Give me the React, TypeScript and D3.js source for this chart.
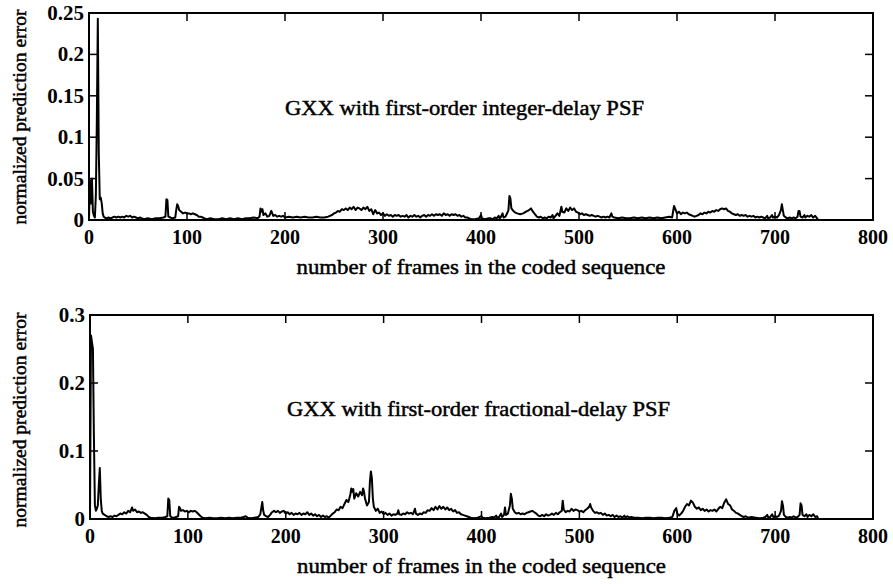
import React from "react";
import * as d3 from "d3";

const xTicks = [0, 100, 200, 300, 400, 500, 600, 700, 800];
const topYTicks = [0, 0.05, 0.1, 0.15, 0.2, 0.25];
const topYLabels = ["0", "0.05", "0.1", "0.15", "0.2", "0.25"];
const botYTicks = [0, 0.1, 0.2, 0.3];
const botYLabels = ["0", "0.1", "0.2", "0.3"];

const xTitle = "number of frames in the coded sequence";
const yTitle = "normalized prediction error";
const topNote = "GXX with first-order integer-delay PSF";
const botNote = "GXX with first-order fractional-delay PSF";

// [frame, normalized prediction error] — integer-delay PSF
const topSeries: [number, number][] = [
  [0,0.0],[1,0.048],[2,0.02],[3,0.05],[4,0.01],[5,0.005],[6,0.003],[7,0.03],[8,0.12],[9,0.243],[10,0.08],[11,0.025],[12,0.027],[13,0.02],[14,0.008],[15,0.004],[16,0.003],[18,0.002],[20,0.003],[22,0.002],[24,0.003],[26,0.004],[28,0.003],[30,0.004],[32,0.003],[34,0.004],[36,0.003],[38,0.005],[40,0.004],[42,0.005],[44,0.003],[46,0.004],[48,0.003],[50,0.002],[52,0.003],[54,0.002],[56,0.001],[60,0.002],[64,0.001],[68,0.002],[72,0.002],[76,0.003],[78,0.004],[79,0.025],[80,0.024],[81,0.004],[83,0.003],[85,0.002],[88,0.003],[89,0.012],[90,0.019],[91,0.017],[92,0.012],[94,0.010],[96,0.008],[98,0.009],[100,0.008],[102,0.008],[104,0.007],[106,0.008],[108,0.007],[110,0.006],[112,0.004],[114,0.004],[116,0.003],[118,0.002],[120,0.001],[124,0.002],[128,0.001],[132,0.001],[136,0.002],[140,0.001],[144,0.002],[148,0.001],[152,0.002],[156,0.001],[160,0.002],[164,0.002],[168,0.003],[172,0.002],[174,0.004],[175,0.014],[176,0.010],[177,0.013],[178,0.006],[180,0.008],[182,0.004],[184,0.005],[186,0.011],[187,0.008],[188,0.005],[190,0.006],[192,0.004],[194,0.005],[196,0.004],[198,0.005],[200,0.003],[204,0.004],[208,0.003],[212,0.004],[216,0.003],[220,0.004],[224,0.003],[228,0.003],[232,0.004],[236,0.003],[240,0.003],[244,0.004],[248,0.006],[250,0.008],[252,0.009],[254,0.011],[256,0.010],[258,0.013],[260,0.012],[262,0.014],[264,0.012],[266,0.015],[268,0.013],[270,0.016],[272,0.012],[274,0.015],[276,0.014],[278,0.012],[280,0.015],[282,0.013],[284,0.016],[286,0.011],[288,0.013],[290,0.007],[292,0.012],[294,0.008],[296,0.009],[298,0.006],[300,0.008],[302,0.005],[304,0.007],[306,0.005],[308,0.006],[310,0.004],[312,0.006],[314,0.005],[316,0.006],[318,0.004],[320,0.005],[322,0.004],[324,0.006],[326,0.003],[328,0.005],[330,0.004],[332,0.006],[334,0.004],[336,0.005],[338,0.003],[340,0.005],[342,0.006],[344,0.004],[346,0.006],[348,0.005],[350,0.007],[352,0.005],[354,0.007],[356,0.006],[358,0.007],[360,0.005],[362,0.008],[364,0.006],[366,0.007],[368,0.005],[370,0.007],[372,0.006],[374,0.007],[376,0.005],[378,0.006],[380,0.004],[382,0.005],[384,0.003],[386,0.003],[388,0.002],[390,0.001],[394,0.001],[398,0.002],[400,0.006],[401,0.002],[404,0.001],[408,0.002],[410,0.002],[412,0.001],[414,0.003],[416,0.002],[418,0.005],[419,0.002],[420,0.003],[422,0.008],[423,0.003],[425,0.004],[427,0.009],[428,0.012],[429,0.029],[430,0.026],[431,0.014],[433,0.011],[435,0.009],[437,0.008],[440,0.007],[443,0.008],[446,0.010],[449,0.012],[451,0.014],[453,0.010],[455,0.007],[457,0.004],[459,0.003],[461,0.004],[463,0.002],[465,0.003],[467,0.002],[469,0.004],[471,0.003],[473,0.006],[474,0.002],[476,0.005],[478,0.008],[480,0.005],[482,0.016],[483,0.010],[485,0.009],[487,0.014],[489,0.011],[491,0.015],[493,0.012],[495,0.014],[497,0.010],[499,0.009],[501,0.007],[503,0.008],[505,0.006],[507,0.007],[509,0.006],[511,0.005],[513,0.006],[515,0.005],[517,0.004],[519,0.005],[521,0.004],[523,0.003],[525,0.004],[527,0.003],[529,0.004],[531,0.003],[533,0.008],[534,0.004],[536,0.003],[540,0.002],[544,0.003],[548,0.002],[552,0.002],[556,0.003],[560,0.002],[564,0.003],[568,0.002],[572,0.003],[576,0.002],[580,0.003],[584,0.002],[588,0.003],[592,0.004],[595,0.003],[597,0.017],[598,0.014],[600,0.008],[602,0.010],[604,0.007],[606,0.009],[608,0.008],[610,0.009],[612,0.007],[614,0.006],[616,0.005],[618,0.004],[620,0.005],[622,0.006],[624,0.008],[626,0.007],[628,0.009],[630,0.008],[632,0.010],[634,0.009],[636,0.011],[638,0.010],[640,0.012],[642,0.011],[644,0.013],[646,0.014],[648,0.013],[650,0.014],[652,0.011],[654,0.010],[656,0.008],[658,0.007],[660,0.006],[662,0.007],[664,0.005],[666,0.006],[668,0.005],[670,0.006],[672,0.004],[674,0.005],[676,0.004],[678,0.005],[680,0.003],[682,0.004],[684,0.003],[686,0.004],[688,0.003],[690,0.002],[692,0.005],[693,0.002],[695,0.003],[697,0.006],[698,0.003],[700,0.004],[702,0.003],[704,0.006],[706,0.012],[707,0.019],[708,0.012],[709,0.005],[711,0.003],[713,0.002],[715,0.003],[717,0.002],[719,0.003],[721,0.002],[723,0.004],[724,0.011],[725,0.011],[726,0.004],[728,0.003],[730,0.006],[731,0.003],[733,0.005],[735,0.004],[737,0.006],[739,0.003],[741,0.005],[743,0.002],[744,0.0]
];

// [frame, normalized prediction error] — fractional-delay PSF
const botSeries: [number, number][] = [
  [0,0.0],[1,0.27],[2,0.26],[3,0.25],[4,0.12],[5,0.02],[6,0.012],[7,0.015],[8,0.02],[9,0.05],[10,0.075],[11,0.03],[12,0.012],[13,0.008],[15,0.006],[17,0.004],[19,0.003],[21,0.004],[23,0.003],[25,0.005],[27,0.004],[29,0.006],[31,0.008],[33,0.007],[35,0.01],[37,0.008],[39,0.012],[41,0.010],[43,0.017],[44,0.012],[46,0.014],[48,0.010],[50,0.011],[52,0.009],[54,0.010],[56,0.008],[58,0.006],[60,0.003],[62,0.002],[66,0.001],[70,0.002],[74,0.002],[77,0.003],[79,0.004],[80,0.030],[81,0.028],[82,0.004],[84,0.002],[86,0.002],[88,0.003],[90,0.004],[91,0.018],[92,0.016],[93,0.012],[95,0.013],[97,0.011],[99,0.012],[101,0.010],[103,0.012],[105,0.011],[107,0.012],[109,0.010],[111,0.007],[113,0.004],[115,0.002],[118,0.001],[122,0.002],[126,0.001],[130,0.001],[134,0.002],[138,0.001],[142,0.002],[146,0.001],[150,0.002],[154,0.002],[157,0.003],[159,0.004],[161,0.002],[164,0.001],[168,0.002],[172,0.003],[174,0.007],[176,0.025],[177,0.012],[178,0.006],[180,0.004],[182,0.003],[184,0.006],[186,0.010],[188,0.012],[190,0.010],[192,0.012],[194,0.009],[196,0.011],[198,0.012],[200,0.008],[202,0.010],[204,0.007],[206,0.009],[208,0.006],[210,0.008],[212,0.007],[214,0.009],[216,0.006],[218,0.008],[220,0.007],[222,0.010],[224,0.006],[226,0.008],[228,0.005],[230,0.007],[232,0.004],[234,0.006],[236,0.003],[238,0.005],[240,0.003],[242,0.004],[244,0.002],[246,0.005],[248,0.008],[250,0.010],[252,0.014],[254,0.013],[256,0.018],[258,0.016],[260,0.022],[262,0.028],[264,0.025],[266,0.036],[267,0.045],[268,0.040],[269,0.044],[270,0.030],[272,0.038],[274,0.033],[276,0.040],[278,0.035],[279,0.045],[280,0.040],[281,0.030],[283,0.020],[285,0.025],[286,0.055],[287,0.070],[288,0.060],[289,0.030],[290,0.018],[292,0.012],[294,0.015],[296,0.009],[298,0.011],[300,0.007],[302,0.009],[304,0.006],[306,0.008],[308,0.005],[310,0.007],[312,0.006],[314,0.008],[315,0.013],[316,0.007],[318,0.006],[320,0.008],[322,0.007],[324,0.010],[326,0.008],[328,0.009],[330,0.007],[332,0.015],[333,0.008],[335,0.006],[337,0.008],[339,0.007],[341,0.010],[343,0.009],[345,0.013],[347,0.012],[349,0.016],[351,0.013],[353,0.018],[355,0.014],[357,0.019],[359,0.015],[361,0.018],[363,0.014],[365,0.017],[367,0.013],[369,0.015],[371,0.011],[373,0.013],[375,0.009],[377,0.010],[379,0.007],[381,0.006],[383,0.005],[385,0.004],[387,0.003],[389,0.002],[392,0.001],[396,0.002],[400,0.004],[401,0.002],[404,0.001],[408,0.002],[411,0.003],[413,0.002],[415,0.005],[416,0.002],[418,0.003],[420,0.008],[421,0.003],[423,0.006],[424,0.017],[425,0.006],[427,0.008],[429,0.020],[430,0.037],[431,0.030],[432,0.015],[434,0.010],[436,0.008],[438,0.009],[440,0.007],[442,0.008],[444,0.007],[446,0.009],[448,0.010],[450,0.011],[452,0.012],[454,0.010],[456,0.008],[458,0.005],[460,0.004],[462,0.006],[464,0.004],[466,0.007],[468,0.005],[470,0.006],[472,0.008],[474,0.006],[476,0.009],[478,0.007],[480,0.010],[482,0.012],[483,0.027],[484,0.014],[486,0.010],[488,0.012],[490,0.011],[492,0.015],[494,0.012],[496,0.014],[498,0.013],[500,0.011],[502,0.012],[504,0.010],[506,0.013],[508,0.015],[510,0.018],[511,0.022],[512,0.017],[514,0.012],[516,0.009],[518,0.010],[520,0.008],[522,0.009],[524,0.006],[526,0.008],[528,0.005],[530,0.006],[532,0.004],[534,0.006],[536,0.003],[538,0.005],[540,0.003],[542,0.004],[544,0.002],[546,0.005],[547,0.002],[549,0.004],[551,0.002],[553,0.003],[556,0.002],[560,0.002],[564,0.001],[568,0.002],[572,0.002],[576,0.001],[580,0.002],[584,0.002],[588,0.001],[592,0.002],[595,0.003],[597,0.012],[599,0.016],[600,0.008],[602,0.005],[604,0.008],[606,0.012],[608,0.018],[610,0.022],[612,0.020],[614,0.027],[616,0.024],[618,0.018],[620,0.015],[622,0.017],[624,0.013],[626,0.015],[628,0.012],[630,0.014],[632,0.011],[634,0.013],[636,0.012],[638,0.014],[640,0.011],[642,0.015],[644,0.018],[646,0.016],[648,0.024],[650,0.029],[652,0.022],[654,0.020],[656,0.014],[658,0.012],[660,0.009],[662,0.008],[664,0.006],[666,0.004],[668,0.003],[670,0.004],[672,0.002],[676,0.003],[680,0.002],[684,0.001],[688,0.002],[690,0.003],[692,0.006],[693,0.002],[695,0.003],[697,0.007],[698,0.003],[700,0.004],[702,0.003],[704,0.005],[706,0.012],[707,0.026],[708,0.020],[709,0.006],[711,0.003],[713,0.002],[715,0.003],[717,0.002],[719,0.004],[721,0.002],[723,0.003],[725,0.006],[726,0.023],[727,0.020],[728,0.006],[730,0.004],[732,0.007],[733,0.003],[735,0.006],[737,0.004],[739,0.007],[741,0.003],[743,0.004],[744,0.0]
];

const FONT = "'Liberation Serif', 'Times New Roman', serif";

type PanelProps = {
  data: [number, number][];
  left: number; right: number; top: number; bottom: number;
  yMax: number; yTicks: number[]; yLabels: string[];
  note: string; noteX: number; noteY: number; noteLen: number;
  yTitleCenter: number;
};

function Panel(p: PanelProps) {
  const x = d3.scaleLinear().domain([0, 800]).range([p.left, p.right]);
  const y = d3.scaleLinear().domain([0, p.yMax]).range([p.bottom, p.top]);
  const line = d3.line<[number, number]>().x(d => x(d[0])).y(d => y(d[1]));
  const tl = 8;
  return (
    <g>
      <path d={line(p.data) || ""} fill="none" stroke="#000" strokeWidth={2} strokeLinejoin="round" />
      <rect x={p.left} y={p.top} width={p.right - p.left} height={p.bottom - p.top} fill="none" stroke="#000" strokeWidth={2} />
      {xTicks.map(t => (
        <g key={"x" + t}>
          <line x1={x(t)} x2={x(t)} y1={p.bottom} y2={p.bottom - tl} stroke="#000" strokeWidth={1.5} />
          <line x1={x(t)} x2={x(t)} y1={p.top} y2={p.top + tl} stroke="#000" strokeWidth={1.5} />
          <text x={x(t)} y={p.bottom + 24} textAnchor="middle" fontFamily={FONT} fontWeight="bold" fontSize={20}>{t}</text>
        </g>
      ))}
      {p.yTicks.map((t, i) => (
        <g key={"y" + t}>
          <line x1={p.left} x2={p.left + tl} y1={y(t)} y2={y(t)} stroke="#000" strokeWidth={1.5} />
          <line x1={p.right} x2={p.right - tl} y1={y(t)} y2={y(t)} stroke="#000" strokeWidth={1.5} />
          <text x={p.left - 5} y={y(t) + 7} textAnchor="end" fontFamily={FONT} fontWeight="bold" fontSize={21}>{p.yLabels[i]}</text>
        </g>
      ))}
      <text x={p.noteX} y={p.noteY} fontFamily={FONT} fontSize={20} stroke="#000" strokeWidth={0.45} textLength={p.noteLen} lengthAdjust="spacingAndGlyphs">{p.note}</text>
      <text x={(p.left + p.right) / 2} y={p.bottom + 54} textAnchor="middle" fontFamily={FONT} fontSize={20} stroke="#000" strokeWidth={0.45} textLength={369} lengthAdjust="spacingAndGlyphs">{xTitle}</text>
      <text transform={`translate(26,${p.yTitleCenter}) rotate(-90)`} textAnchor="middle" fontFamily={FONT} fontSize={19} stroke="#000" strokeWidth={0.45} textLength={215} lengthAdjust="spacingAndGlyphs">{yTitle}</text>
    </g>
  );
}

export default function App() {
  return (
    <svg width={893} height={584} style={{ position: "absolute", left: 0, top: 0, background: "#fff" }}>
      <rect width={893} height={584} fill="#fff" />
      <Panel data={topSeries} left={89} right={873} top={13} bottom={220} yMax={0.25}
        yTicks={topYTicks} yLabels={topYLabels} note={topNote} noteX={285} noteY={115} noteLen={359} yTitleCenter={117} />
      <Panel data={botSeries} left={90} right={873} top={315} bottom={519} yMax={0.3}
        yTicks={botYTicks} yLabels={botYLabels} note={botNote} noteX={287} noteY={416} noteLen={383} yTitleCenter={420} />
    </svg>
  );
}
